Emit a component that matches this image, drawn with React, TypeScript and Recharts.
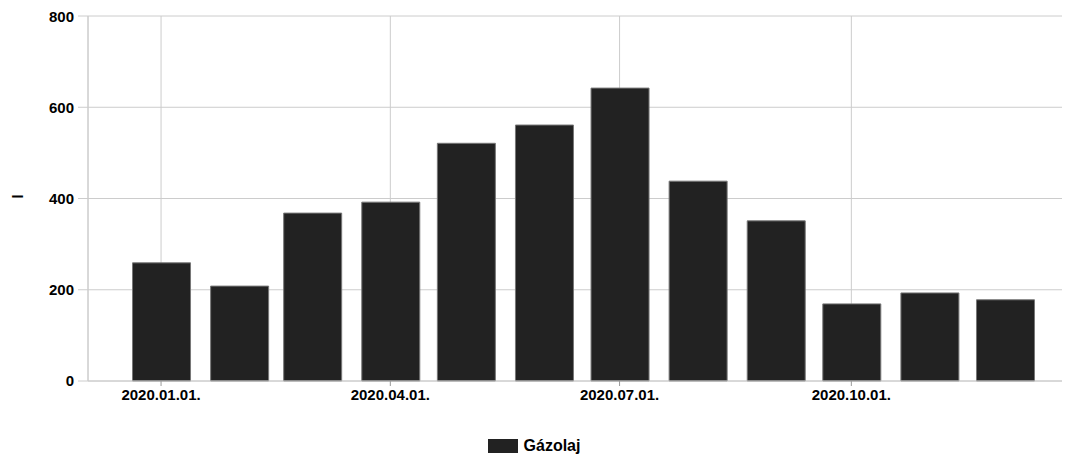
import { BarChart, Bar, XAxis, YAxis, CartesianGrid } from "recharts";

const FONT = "'Liberation Sans', Arial, sans-serif";
const BAR_FILL = "#222222";

// month starts, 2020
const months = [
  "2020-01-01", "2020-02-01", "2020-03-01", "2020-04-01", "2020-05-01", "2020-06-01",
  "2020-07-01", "2020-08-01", "2020-09-01", "2020-10-01", "2020-11-01", "2020-12-01",
];
const gazolaj = [259, 208, 368, 392, 521, 561, 642, 438, 351, 169, 193, 178];
const xTicks = ["2020-01-01", "2020-04-01", "2020-07-01", "2020-10-01"];
const yTicks = [0, 200, 400, 600, 800];

const ts = (s: string) => Date.parse(s + "T00:00:00Z");

const data = months.map((m, i) => ({ t: ts(m), value: gazolaj[i] }));

const fmtDate = (v: number) => {
  const d = new Date(v);
  const mm = String(d.getUTCMonth() + 1).padStart(2, "0");
  const dd = String(d.getUTCDate()).padStart(2, "0");
  return `${d.getUTCFullYear()}.${mm}.${dd}.`;
};

const tickStyle = { fill: "#000", fontSize: 15, fontWeight: 700, fontFamily: FONT };

export default function App() {
  return (
    <div style={{ width: 1062, fontFamily: FONT }}>
      <BarChart width={1062} height={410} data={data} margin={{ top: 8, right: 2, left: 0, bottom: 7 }}>
        <CartesianGrid stroke="#cccccc" />
        <XAxis
          dataKey="t"
          type="number"
          scale="time"
          domain={[ts("2019-12-03"), ts("2020-12-26")]}
          ticks={xTicks.map(ts)}
          tickFormatter={fmtDate}
          tick={tickStyle}
          tickSize={5}
          tickMargin={3}
          height={30}
          stroke="#cccccc"
          tickLine={{ stroke: "#999" }}
        />
        <YAxis
          domain={[0, 800]}
          ticks={yTicks}
          tick={tickStyle}
          tickSize={10}
          tickMargin={4}
          width={80}
          stroke="#cccccc"
          label={{ value: "l", angle: -90, position: "insideLeft", offset: 10, style: tickStyle }}
        />
        <Bar dataKey="value" name="Gázolaj" fill={BAR_FILL} stroke="#777" strokeWidth={1} barSize={58} isAnimationActive={false} />
      </BarChart>
      <div style={{ display: "flex", justifyContent: "center", alignItems: "center", marginTop: 20, height: 16, paddingRight: 10 }}>
        <span style={{ display: "inline-block", width: 30, height: 14, background: BAR_FILL, marginRight: 6 }} />
        <span style={{ fontSize: 16, fontWeight: 700, color: "#000" }}>Gázolaj</span>
      </div>
    </div>
  );
}
